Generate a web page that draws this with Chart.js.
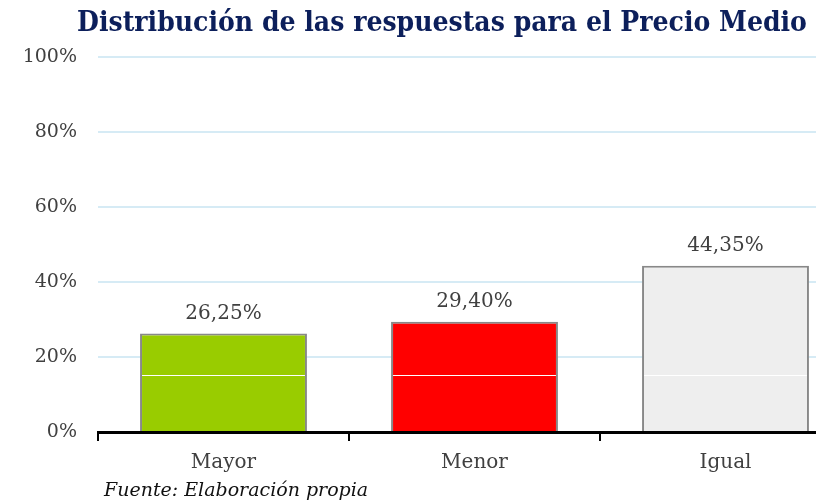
<!DOCTYPE html>
<html>
<head>
<meta charset="utf-8">
<script src="https://cdn.jsdelivr.net/npm/chart.js@4"></script>
<style>
  html, body { margin: 0; padding: 0; background: #fff; overflow: hidden; }
  #wrap { position: relative; width: 884px; height: 502px; }
  #fuente {
    position: absolute; left: 104px; top: 478px;
    font: italic 19px "DejaVu Serif", serif; color: #111;
    white-space: nowrap;
  }
</style>
</head>
<body>
<div id="wrap">
  <canvas id="myChart"></canvas>
  <div id="fuente">Fuente: Elaboración propia</div>
</div>
<script>
const categories = ['Mayor', 'Menor', 'Igual'];
const values = [26.25, 29.40, 44.35];
const barColors = ['#99cc00', '#ff0000', '#eeeeee'];
const yTicks = [0, 20, 40, 60, 80, 100];
const whiteLineValue = 15.2;
const titleText = 'Distribución de las respuestas para el Precio Medio';

const fmt = v => v.toFixed(2).replace('.', ',') + '%';

// title (centred on the whole canvas), labels over the bars, thin white stripe
const barExtras = {
    id: 'barExtras',
    afterDatasetsDraw(chart) {
        const ctx = chart.ctx;
        const meta = chart.getDatasetMeta(0);
        const y = chart.scales.y;
        ctx.save();
        meta.data.forEach((bar, i) => {
            const half = bar.width / 2 - 2;
            const yy = Math.round(y.getPixelForValue(whiteLineValue)) + 0.5;
            ctx.strokeStyle = '#ffffff';
            ctx.lineWidth = 1;
            ctx.beginPath();
            ctx.moveTo(bar.x - half, yy);
            ctx.lineTo(bar.x + half, yy);
            ctx.stroke();

            ctx.fillStyle = '#404040';
            ctx.font = '20px "DejaVu Serif", serif';
            ctx.textAlign = 'center';
            ctx.textBaseline = 'bottom';
            ctx.fillText(fmt(values[i]), bar.x, bar.y - 10);
        });

        ctx.fillStyle = '#0c1f5b';
        ctx.font = 'bold 28px "DejaVu Serif Condensed", "DejaVu Serif", serif';
        ctx.textAlign = 'center';
        ctx.textBaseline = 'alphabetic';
        ctx.fillText(titleText, chart.width / 2, 31);
        ctx.restore();
    }
};

const data = {
    labels: categories,
    datasets: [{
        data: values,
        backgroundColor: barColors,
        borderColor: '#888888',
        borderWidth: 2,
        barPercentage: 0.665,
        categoryPercentage: 1
    }]
};

const config = {
    type: 'bar',
    data: data,
    plugins: [barExtras],
    options: {
        responsive: false,
        animation: false,
        layout: { padding: { top: 57, right: 33, bottom: 17, left: 0 } },
        plugins: {
            legend: { display: false },
            tooltip: { enabled: false }
        },
        scales: {
            x: {
                grid: {
                    offset: true,
                    drawOnChartArea: false,
                    drawTicks: true,
                    tickLength: 9,
                    color: '#000',
                    lineWidth: 2
                },
                border: { display: true, color: '#000', width: 3 },
                ticks: {
                    color: '#404040',
                    padding: 10,
                    font: { family: '"DejaVu Serif", serif', size: 20 }
                }
            },
            y: {
                min: 0,
                max: 100,
                afterBuildTicks(scale) {
                    scale.ticks = yTicks.map(v => ({ value: v }));
                },
                afterFit(scale) { scale.width = 98; },
                grid: { color: '#d6ebf5', lineWidth: 2, drawTicks: false },
                border: { display: false },
                ticks: {
                    color: '#404040',
                    padding: 21,
                    font: { family: '"DejaVu Serif", serif', size: 19 },
                    callback: v => v + '%'
                }
            }
        }
    }
};

const cv = document.getElementById('myChart');
cv.width = 884;
cv.height = 502;
const myChart = new Chart(cv, config);
</script>
</body>
</html>
